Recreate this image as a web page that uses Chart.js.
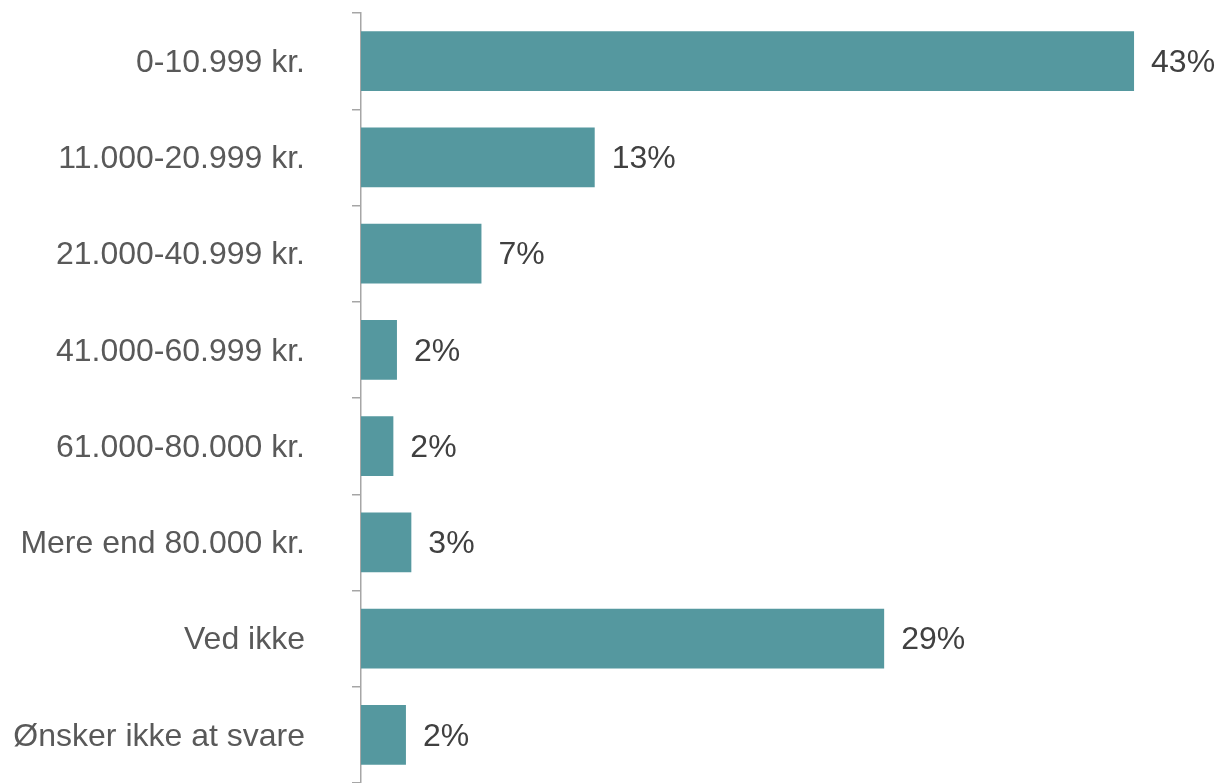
<!DOCTYPE html>
<html>
<head>
<meta charset="utf-8">
<script src="https://cdn.jsdelivr.net/npm/chart.js@4"></script>
<style>
  html, body { margin: 0; padding: 0; background: #fff; }
  #wrap { width: 1220px; height: 783px; }
</style>
</head>
<body>
<div id="wrap"><canvas id="incomeChart"></canvas></div>
<script>
const categories = [
    '0-10.999 kr.',
    '11.000-20.999 kr.',
    '21.000-40.999 kr.',
    '41.000-60.999 kr.',
    '61.000-80.000 kr.',
    'Mere end 80.000 kr.',
    'Ved ikke',
    'Ønsker ikke at svare'
];
const shares = [43, 13, 6.7, 2.0, 1.8, 2.8, 29.1, 2.5];
const shareLabels = ['43%', '13%', '7%', '2%', '2%', '3%', '29%', '2%'];

// value labels next to each bar
const valueLabels = {
    id: 'valueLabels',
    afterDatasetsDraw(chart) {
        const ctx = chart.ctx;
        const meta = chart.getDatasetMeta(0);
        ctx.save();
        ctx.font = '32px "Liberation Sans", Arial, sans-serif';
        ctx.fillStyle = '#404040';
        ctx.textAlign = 'left';
        ctx.textBaseline = 'middle';
        meta.data.forEach((bar, i) => {
            ctx.fillText(shareLabels[i], bar.x + 17, bar.y + 2);
        });
        ctx.restore();
    }
};

const ctx = document.getElementById('incomeChart').getContext('2d');
new Chart(ctx, {
    type: 'bar',
    data: {
        labels: categories,
        datasets: [{
            data: shares,
            backgroundColor: '#55989f',
            categoryPercentage: 1,
            barPercentage: 0.623
        }]
    },
    options: {
        indexAxis: 'y',
        responsive: true,
        maintainAspectRatio: false,
        animation: false,
        layout: { padding: { top: 13, bottom: 0, left: 0, right: 50 } },
        plugins: {
            legend: { display: false },
            tooltip: { enabled: false }
        },
        scales: {
            x: {
                display: false,
                min: 0,
                max: 45
            },
            y: {
                afterFit(scale) {
                    scale.width = 361;
                    scale.paddingTop = 0;
                    scale.paddingBottom = 0;
                },
                grid: {
                    offset: true,
                    drawOnChartArea: false,
                    drawTicks: true,
                    tickLength: 9,
                    color: '#a6a6a6',
                    lineWidth: 1.5
                },
                border: { display: true, color: '#a6a6a6', width: 1.5 },
                ticks: {
                    padding: 47,
                    labelOffset: 2,
                    color: '#595959',
                    font: { family: '"Liberation Sans", Arial, sans-serif', size: 32 }
                }
            }
        }
    },
    plugins: [valueLabels]
});
</script>
</body>
</html>
